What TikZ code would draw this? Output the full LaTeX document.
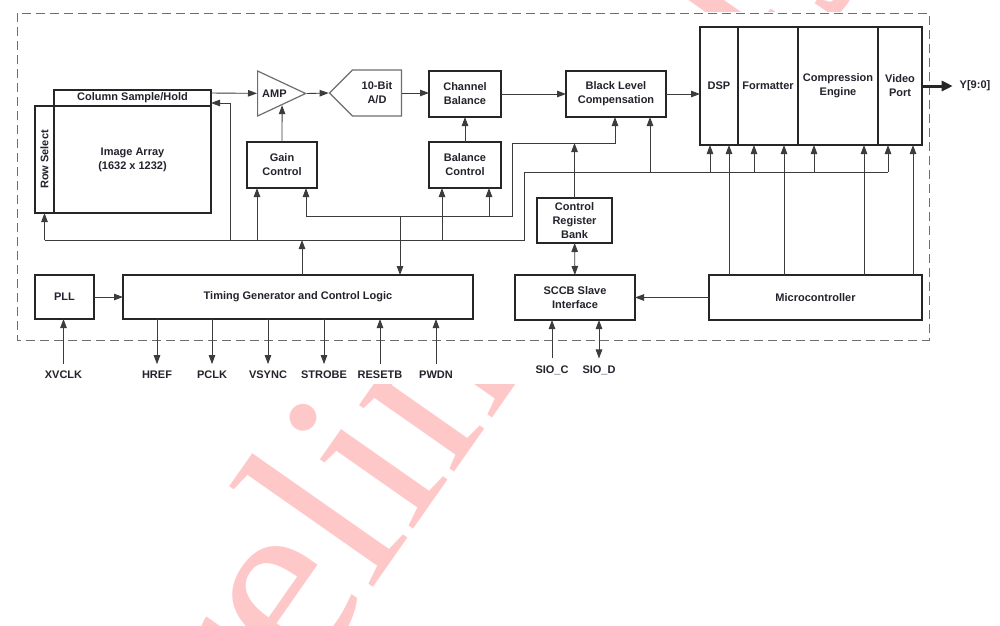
\documentclass[tikz,border=0pt]{standalone}
\usepackage{fontspec}
\setmainfont{Liberation Sans}
\newfontfamily\wmfont{Liberation Serif}
\usetikzlibrary{arrows.meta,positioning,shapes.geometric,shapes.symbols}
\definecolor{ink}{RGB}{35,35,45}
\definecolor{wire}{RGB}{60,60,60}
\definecolor{frame}{RGB}{110,110,110}
\definecolor{mark}{RGB}{255,200,200}

\begin{document}
\begin{tikzpicture}[x=1pt, y=-1pt,
  font=\fontsize{11}{14}\selectfont\bfseries,
  blk/.style={draw=black!85, line width=1.6pt, text=ink, align=center, inner sep=1pt, outer sep=0pt},
  wire/.style={draw=wire, line width=0.9pt},
  arr/.style={wire, -{Triangle[length=9pt,width=6.5pt]}},
  darr/.style={wire, {Triangle[length=9pt,width=6.5pt]}-{Triangle[length=9pt,width=6.5pt]}},
  pin/.style={text=ink, inner sep=0pt, outer ysep=7pt}]

% Page and watermark
\useasboundingbox (0,0) rectangle (1000,625);
\fill[white] (0,0) rectangle (1000,625);
\node[anchor=base west, rotate=55, inner sep=0pt, text=mark, font=\wmfont\fontsize{253}{253}\selectfont] (wm) at (177,868) {Preliminary};
\fill[white] (0,12) rectangle (1000,384);

% Chip outline
\draw[frame, line width=1pt, dash pattern=on 9pt off 5pt] (17,13) rectangle (929,340);

% Sensor array
\node[blk, minimum width=19pt, minimum height=107pt] (rowsel) at (44.5,159.5) {\rotatebox{90}{Row Select}};
\node[blk, minimum width=157pt, minimum height=107pt] (array) at (132.5,159.5) {Image Array\\(1632 x 1232)};
\node[blk, minimum width=157pt, minimum height=16pt] (colsh) at (132.5,98) {Column Sample/Hold};

% Analog chain
\node[draw=frame, line width=1.2pt, text=ink, isosceles triangle, isosceles triangle stretches, shape border rotate=0, minimum width=45pt, minimum height=48pt, inner sep=0pt, anchor=lower side] (amp) at (257,93.5) {AMP};
\node[draw=frame, line width=1.2pt, text=ink, align=center, signal, signal to=west, signal from=nowhere, minimum width=72pt, minimum height=46pt, inner sep=1pt] (ad) at (377,93) {10-Bit\\A/D};
\node[blk, minimum width=70pt, minimum height=46pt] (gain) at (282,165) {Gain\\Control};
\node[blk, minimum width=72pt, minimum height=46pt] (chbal) at (465,94) {Channel\\Balance};
\node[blk, minimum width=72pt, minimum height=46pt] (balctl) at (465,165) {Balance\\Control};
\node[blk, minimum width=100pt, minimum height=46pt] (blc) at (616,94) {Black Level\\Compensation};
\node[blk, minimum width=75pt, minimum height=45pt] (crb) at (574.5,220.5) {Control\\Register\\Bank};

% Digital back end
\node[blk, minimum width=38pt, minimum height=118pt] (dsp) at (719,86) {DSP};
\node[blk, minimum width=60pt, minimum height=118pt, right=0pt of dsp] (fmt) {Formatter};
\node[blk, minimum width=80pt, minimum height=118pt, right=0pt of fmt] (comp) {Compression\\Engine};
\node[blk, minimum width=44pt, minimum height=118pt, right=0pt of comp] (vport) {Video\\Port};

% Bottom row
\node[blk, minimum width=59pt, minimum height=44pt] (pll) at (64.5,297) {PLL};
\node[blk, minimum width=350pt, minimum height=44pt] (tg) at (298,297) {Timing Generator and Control Logic};
\node[blk, minimum width=120pt, minimum height=45pt] (sccb) at (575,297.5) {SCCB Slave\\Interface};
\node[blk, minimum width=213pt, minimum height=45pt] (mcu) at (815.5,297.5) {Microcontroller};

% Pins
\node[pin] (xvclk) at (63.5,375) {XVCLK};
\node[pin] (href) at (157,375) {HREF};
\node[pin] (pclk) at (212,375) {PCLK};
\node[pin] (vsync) at (268,375) {VSYNC};
\node[pin] (strobe) at (324,375) {STROBE};
\node[pin] (resetb) at (380,375) {RESETB};
\node[pin] (pwdn) at (436,375) {PWDN};
\node[pin] (sioc) at (552,370) {SIO\_C};
\node[pin] (siod) at (599,370) {SIO\_D};
\node[pin, outer xsep=7pt] (yout) at (975,86) {Y[9:0]};

% Signal chain
\draw[arr] ([yshift=5pt]colsh.east) -- (amp);
\draw[arr] (amp.apex) -- (ad.west);
\draw[arr] (ad.east) -- (ad.east -| chbal.west);
\draw[arr] (chbal) -- (blc);
\draw[arr] (blc.east) -- (blc.east -| dsp.west);
\draw[arr] (gain.north) -- (amp.right side);
\draw[arr] (balctl) -- (chbal);
\draw[draw=black!85, line width=3pt, -{Triangle[length=11pt,width=10pt]}] (vport.east) -- (yout);

% Clock, timing and pins
\draw[arr] (pll) -- (tg);
\draw[arr] (xvclk) -- (xvclk |- pll.south);
\draw[arr] (tg.south -| href) -- (href);
\draw[arr] (tg.south -| pclk) -- (pclk);
\draw[arr] (tg.south -| vsync) -- (vsync);
\draw[arr] (tg.south -| strobe) -- (strobe);
\draw[arr] (resetb) -- (resetb |- tg.south);
\draw[arr] (pwdn) -- (pwdn |- tg.south);

% Serial control
\draw[arr] (mcu) -- (sccb);
\draw[darr] (crb) -- (sccb);
\draw[arr] (sioc) -- (sioc |- sccb.south);
\draw[darr] (siod) -- (siod |- sccb.south);
\draw[arr] ([xshift=-9pt]dsp.south east |- mcu.north) -- ([xshift=-9pt]dsp.south east);
\draw[arr] ([xshift=-14pt]fmt.south east |- mcu.north) -- ([xshift=-14pt]fmt.south east);
\draw[arr] ([xshift=-14pt]comp.south east |- mcu.north) -- ([xshift=-14pt]comp.south east);
\draw[arr] ([xshift=-9pt]vport.south east |- mcu.north) -- ([xshift=-9pt]vport.south east);

% Lower control bus
\coordinate (busA) at (rowsel.south |- 0,240);
\coordinate (busAc) at (524,172);
\draw[wire] (busA) -| (busAc) -- ([xshift=10pt]vport.south west |- busAc);
\draw[arr] (busA) -- (rowsel.south);
\draw[arr] ([xshift=19pt]colsh.east |- busA) |- ([yshift=-5pt]colsh.east);
\draw[arr] ([xshift=10pt]gain.south west |- busA) -- ([xshift=10pt]gain.south west);
\draw[arr] ([xshift=13pt]balctl.south west |- busA) -- ([xshift=13pt]balctl.south west);
\draw[arr] ([xshift=4pt]tg.north) -- ([xshift=4pt]tg.north |- busA);
\draw[arr] ([xshift=-16pt]blc.south east |- busAc) -- ([xshift=-16pt]blc.south east);
\draw[arr] ([xshift=10pt]dsp.south west |- busAc) -- ([xshift=10pt]dsp.south west);
\draw[arr] ([xshift=16pt]fmt.south west |- busAc) -- ([xshift=16pt]fmt.south west);
\draw[arr] ([xshift=16pt]comp.south west |- busAc) -- ([xshift=16pt]comp.south west);
\draw[arr] ([xshift=10pt]vport.south west |- busAc) -- ([xshift=10pt]vport.south west);

% Upper control bus
\coordinate (busB) at ([xshift=-11pt]gain.south east |- 0,216);
\coordinate (busBc) at (512,143);
\draw[arr] (busB) -- ([xshift=-11pt]gain.south east);
\draw[arr] (busB) -| (busBc) -| ([xshift=-1pt]blc.south);
\draw[arr] ([xshift=-12pt]balctl.south east |- busB) -- ([xshift=-12pt]balctl.south east);
\draw[arr] ([xshift=102pt]tg.north |- busB) -- ([xshift=102pt]tg.north);
\draw[arr] (crb) -- (crb |- busBc);

\end{tikzpicture}
\end{document}
